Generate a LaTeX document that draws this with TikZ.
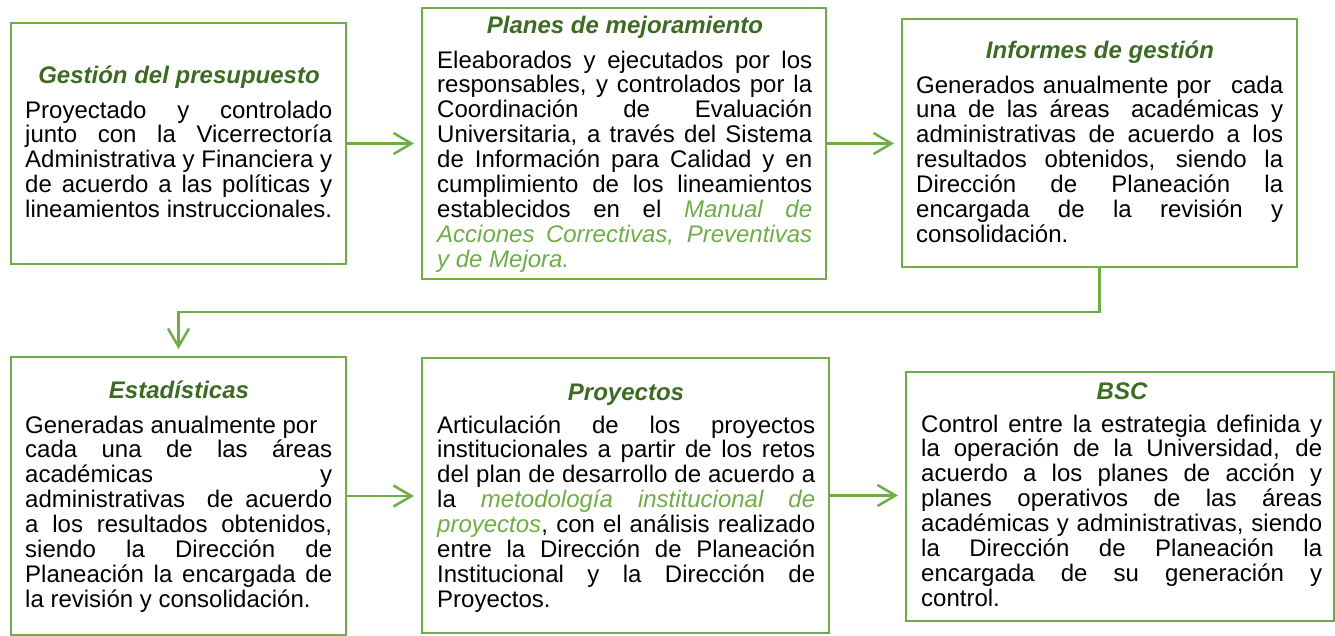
\documentclass[tikz,border=0pt]{standalone}
\usepackage{fontspec}
\setmainfont{Liberation Sans}
\usetikzlibrary{arrows.meta}
\definecolor{boxgreen}{HTML}{70AD47}
\definecolor{titlegreen}{HTML}{3E6B24}
\newcommand\bodysize{\fontsize{24}{24.9}\selectfont}
\newcommand\titlesize{\fontsize{24}{25}\selectfont\bfseries\itshape}
\newcommand\bodytext[2]{\vtop{\hsize=#1\spaceskip=0pt\xspaceskip=0pt\bodysize #2}}
\newcommand\J[1]{\hbox to\hsize{#1}}
\newcommand\LL[1]{\hbox to\hsize{#1\hfil}}
\newcommand\hl[1]{\textcolor{boxgreen}{\itshape #1}}
\begin{document}
\begin{tikzpicture}[x=1pt,y=-1pt,
  box/.style={draw=boxgreen, line width=2.8pt, inner sep=0pt, outer sep=0pt, anchor=north west},
  ttl/.style={font=\titlesize, text=titlegreen, inner sep=0pt, anchor=base},
  body/.style={inner sep=0pt, anchor=base west},
  conn/.style={draw=boxgreen, line width=2.5pt, -{Straight Barb[length=18pt,width=21pt]}, shorten >=8pt}]
\useasboundingbox (0,0) rectangle (1335,635);
% boxes
\node[box, minimum width=335pt, minimum height=241pt] (b1) at (11,23) {};
\node[box, minimum width=404pt, minimum height=271pt] (b2) at (422,8) {};
\node[box, minimum width=395pt, minimum height=248pt] (b3) at (902,19) {};
\node[box, minimum width=335pt, minimum height=278pt] (b4) at (11,357) {};
\node[box, minimum width=407pt, minimum height=275pt] (b5) at (422,358) {};
\node[box, minimum width=428pt, minimum height=249pt] (b6) at (906,372) {};
% titles
\node[ttl] (t1) at (179,83) {Gestión del presupuesto};
\node[ttl] (t2) at (625,33) {Planes de mejoramiento};
\node[ttl] (t3) at (1100,58) {Informes de gestión};
\node[ttl] (t4) at (179,398) {Estadísticas};
\node[ttl] (t5) at (626,400) {Proyectos};
\node[ttl] (t6) at (1122,399) {BSC};
% bodies
\node[body] (x1) at (25,118) {\bodytext{307pt}{%
\J{Proyectado y controlado}
\J{junto con la Vicerrectoría}
\J{Administrativa y Financiera y}
\J{de acuerdo a las políticas y}
\J{lineamientos instruccionales.}}};
\node[body] (x2) at (437,68) {\bodytext{375pt}{%
\J{Eleaborados y ejecutados por los}
\J{responsables, y controlados por la}
\J{Coordinación de Evaluación}
\J{Universitaria, a través del Sistema}
\J{de Información para Calidad y en}
\J{cumplimiento de los lineamientos}
\J{establecidos en el \hl{Manual de}}
\J{\hl{Acciones Correctivas, Preventivas}}
\LL{\hl{y de Mejora.}}}};
\node[body] (x3) at (916,93) {\bodytext{367pt}{%
\J{Generados anualmente por\hspace{0.5em} cada}
\J{una de las áreas\hspace{0.4em} académicas y}
\J{administrativas de acuerdo a los}
\J{resultados obtenidos, siendo la}
\J{Dirección de Planeación la}
\J{encargada de la revisión y}
\LL{consolidación.}}};
\node[body] (x4) at (25,433) {\bodytext{307pt}{%
\LL{Generadas anualmente por}
\J{cada una de las áreas}
\J{académicas y}
\J{administrativas\hspace{0.4em} de acuerdo}
\J{a los resultados obtenidos,}
\J{siendo la Dirección de}
\J{Planeación la encargada de}
\LL{la revisión y consolidación.}}};
\node[body] (x5) at (437,433) {\bodytext{378pt}{%
\J{Articulación de los proyectos}
\J{institucionales a partir de los retos}
\J{del plan de desarrollo de acuerdo a}
\J{la \hl{metodología institucional de}}
\J{\hl{proyectos}, con el análisis realizado}
\J{entre la Dirección de Planeación}
\J{Institucional y la Dirección de}
\LL{Proyectos.}}};
\node[body] (x6) at (921,432) {\bodytext{401pt}{%
\J{Control entre la estrategia definida y}
\J{la operación de la Universidad, de}
\J{acuerdo a los planes de acción y}
\J{planes operativos de las áreas}
\J{académicas y administrativas, siendo}
\J{la Dirección de Planeación la}
\J{encargada de su generación y}
\LL{control.}}};
% connectors
\draw[conn] (b1.east) -- (b2.west |- b1.east);
\draw[conn] (b2.east) -- (b3.west |- b2.east);
\draw[conn] (b3.south) -- ++(0,45) -| (b4.north);
\draw[conn] (b4.east) -- (b5.west |- b4.east);
\draw[conn] (b5.east) -- (b6.west |- b5.east);
\end{tikzpicture}
\end{document}
